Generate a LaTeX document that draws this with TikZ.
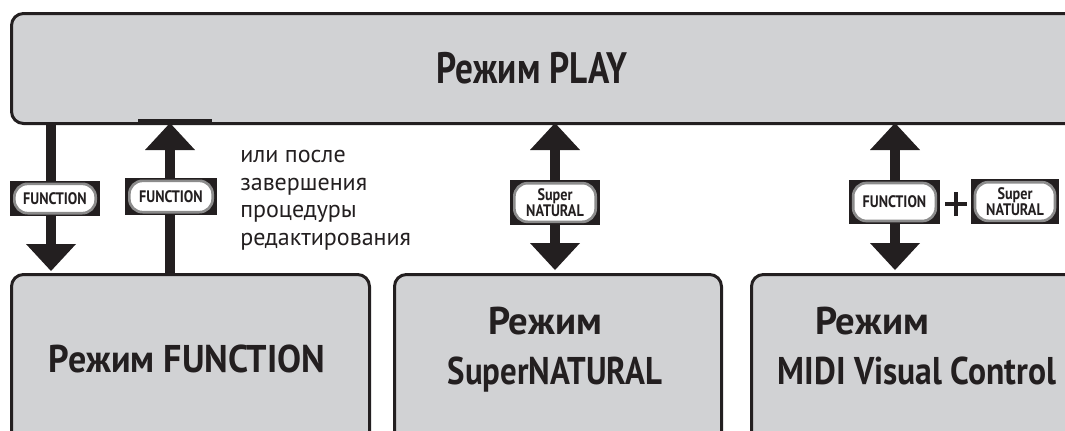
\documentclass[tikz,border=0pt]{standalone}
\usepackage{fontspec}
\usepackage{graphicx}
\setmainfont{PT Sans}
\definecolor{ink}{HTML}{231F20}
\definecolor{boxgray}{HTML}{D1D2D4}
\definecolor{ring}{HTML}{8C8C8C}
\newcommand\sqz[2]{\scalebox{#1}[1]{#2}}
\newcommand\headdown[1]{\fill[ink] (#1) -- ++(-25,-27) -- ++(50,0) -- cycle;}
\newcommand\headup[1]{\fill[ink] (#1) -- ++(-25,27) -- ++(50,0) -- cycle;}
\begin{document}
\begin{tikzpicture}[x=0.75pt,y=-0.75pt,
  box/.style={draw=ink, line width=2.25pt, fill=boxgray, rounded corners=9pt, inner sep=0pt},
  bigtitle/.style={font=\bfseries\fontsize{33}{33}\selectfont, text=ink, inner sep=0pt},
  title/.style={font=\bfseries\fontsize{29}{29}\selectfont, text=ink, inner sep=0pt},
  note/.style={font=\fontsize{18}{20.6}\selectfont, text=ink, align=left, inner sep=0pt},
  shaft/.style={draw=ink, line width=7.5pt},
  bar/.style={draw=ink, line width=3pt},
  btnbg/.style={fill=ink, inner sep=0pt},
  btnpill/.style={fill=white, draw=ring, line width=2pt, rounded corners=10pt, inner sep=0pt,
     font=\bfseries\fontsize{12.5}{11}\selectfont, text=ink, align=center},
  plus/.style={draw=ink, line width=2.4pt}
]
\path[use as bounding box] (0,0) rectangle (1065,430);
\clip (0,0) rectangle (1065,430);

% boxes
\node[box, anchor=north west, minimum width=810pt, minimum height=82.5pt] (play) at (10,12) {};
\node[box, anchor=north west, minimum width=268.5pt, minimum height=135pt] (func) at (10,273) {};
\node[box, anchor=north west, minimum width=245.25pt, minimum height=135pt] (sn) at (393,273) {};
\node[box, anchor=north west, minimum width=260pt, minimum height=135pt] (midi) at (750,273) {};

% titles
\node[bigtitle, anchor=base] (playt) at (532,83) {\sqz{0.8}{Режим PLAY}};
\node[title, anchor=base] (funct) at (187,372) {\sqz{0.93}{Режим FUNCTION}};
\node[title, anchor=base] (snt1) at (545,334) {\sqz{1.0}{Режим}};
\node[title, anchor=base] (snt2) at (555,384) {\sqz{0.85}{SuperNATURAL}};
\node[title, anchor=base] (midit1) at (872,334) {\sqz{1.0}{Режим}};
\node[title, anchor=base] (midit2) at (917,384) {\sqz{0.87}{MIDI Visual Control}};

% note (base = last line)
\node[note, anchor=base west] (note) at (240,245) {или после\\завершения\\процедуры\\редактирования};

% arrow x positions
\coordinate (x1) at (51,0);
\coordinate (x2) at (170,0);
% head tips
\coordinate (t1) at (51,271);
\coordinate (t2) at (170,123);
\coordinate (t3u) at (555,123);
\coordinate (t3d) at (555,270);
\coordinate (t4u) at (895,123);
\coordinate (t4d) at (895,270);

% arrow 1 (down)
\draw[shaft] (play.south -| x1) -- ([yshift=20.25pt]t1);
\headdown{t1}
% arrow 2 (up)
\draw[shaft] (func.north -| x2) -- ([yshift=-20.25pt]t2);
\headup{t2}
\draw[bar] (138,121) -- (212,121);
% arrow 3 (double)
\draw[shaft] ([yshift=-20.25pt]t3u) -- ([yshift=20.25pt]t3d);
\headup{t3u}
\headdown{t3d}
% arrow 4 (double)
\draw[shaft] ([yshift=-20.25pt]t4u) -- ([yshift=20.25pt]t4d);
\headup{t4u}
\headdown{t4d}

% buttons
\node[btnbg, minimum width=67.5pt, minimum height=26.25pt] (b1) at (55,198.5) {};
\node[btnpill, minimum width=61pt, minimum height=22pt] (p1) at (b1) {\sqz{0.85}{FUNCTION}};
\node[btnbg, minimum width=69pt, minimum height=27.75pt] (b2) at (171,196.5) {};
\node[btnpill, minimum width=62.5pt, minimum height=23.5pt] (p2) at (b2) {\sqz{0.85}{FUNCTION}};
\node[btnbg, minimum width=67.5pt, minimum height=33.75pt] (b3) at (555,202.5) {};
\node[btnpill, minimum width=61pt, minimum height=29pt] (p3) at (b3) {\sqz{0.85}{Super}\\\sqz{0.85}{NATURAL}};
\node[btnbg, minimum width=68.25pt, minimum height=33pt] (b4) at (894.5,202) {};
\node[btnpill, minimum width=62pt, minimum height=28.5pt] (p4) at (b4) {\sqz{0.85}{FUNCTION}};
\node[btnbg, minimum width=66pt, minimum height=33.75pt] (b5) at (1015,201.5) {};
\node[btnpill, minimum width=60pt, minimum height=29pt] (p5) at (b5) {\sqz{0.85}{Super}\\\sqz{0.85}{NATURAL}};

% plus sign
\coordinate (pc) at (956,204);
\draw[plus] ([xshift=-8.25pt]pc) -- ([xshift=8.25pt]pc);
\draw[plus] ([yshift=-9pt]pc) -- ([yshift=9pt]pc);
\end{tikzpicture}
\end{document}
